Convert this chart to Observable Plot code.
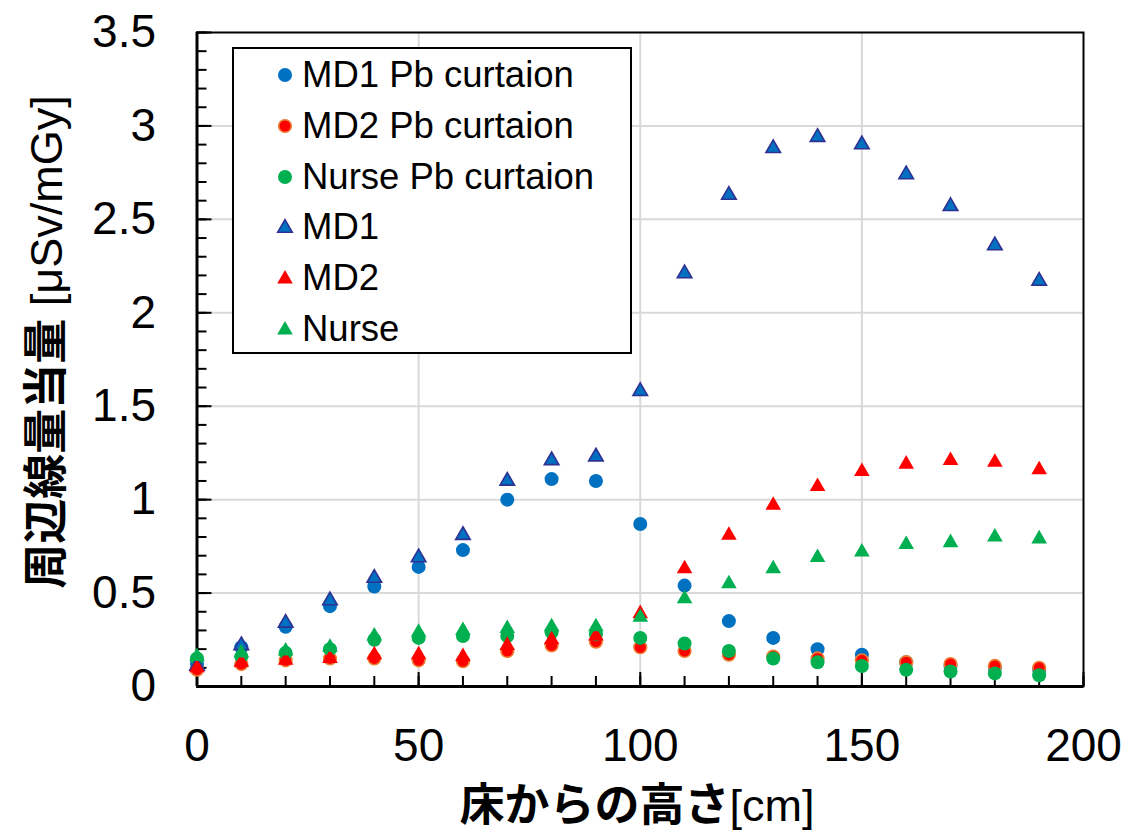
<!DOCTYPE html>
<html><head><meta charset="utf-8">
<script src="https://cdn.jsdelivr.net/npm/d3@7"></script>
<script src="https://cdn.jsdelivr.net/npm/@observablehq/plot@0.6"></script>
<style>
body{margin:0;background:#fff;}
#wrap{position:relative;width:1129px;height:832px;font-family:"Liberation Sans",Arial,sans-serif;color:#000;overflow:hidden;}
#legend{position:absolute;left:232px;top:47px;width:396px;height:303px;border:2px solid #000;background:#fff;}
.lg{position:absolute;left:0;height:50px;display:flex;align-items:center;font-size:36.5px;white-space:nowrap;}
.lg svg{margin-left:42px;margin-right:8px;}
.xt{position:absolute;left:637px;top:803px;transform:translate(-50%,-50%);font-size:45px;line-height:1;white-space:nowrap;}
.yt{position:absolute;left:44px;top:342px;transform:translate(-50%,-50%) rotate(-90deg);font-size:45px;line-height:1;white-space:nowrap;}
.jp{font-family:"Noto Sans CJK JP",sans-serif;font-weight:700;}
</style></head><body><div id="wrap"></div>
<script>
const heights = [0,10,20,30,40,50,60,70,80,90,100,110,120,130,140,150,160,170,180,190];
const md1Pb   = [0.12,0.21,0.32,0.43,0.535,0.64,0.73,1.00,1.11,1.10,0.87,0.54,0.35,0.26,0.20,0.17,0.13,0.11,0.10,0.09];
const md2Pb   = [0.09,0.12,0.14,0.15,0.15,0.14,0.135,0.19,0.22,0.24,0.21,0.19,0.17,0.16,0.15,0.14,0.13,0.12,0.11,0.10];
const nursePb = [0.15,0.16,0.18,0.20,0.25,0.26,0.27,0.27,0.29,0.28,0.26,0.23,0.19,0.15,0.13,0.11,0.09,0.08,0.07,0.06];
const md1     = [0.11,0.22,0.34,0.46,0.58,0.69,0.81,1.10,1.21,1.23,1.58,2.21,2.63,2.88,2.94,2.90,2.74,2.57,2.36,2.17];
const md2     = [0.10,0.13,0.14,0.15,0.17,0.17,0.16,0.22,0.25,0.27,0.39,0.63,0.81,0.97,1.07,1.15,1.19,1.21,1.20,1.16];
const nurse   = [0.16,0.18,0.19,0.21,0.27,0.29,0.30,0.31,0.32,0.32,0.37,0.47,0.55,0.63,0.69,0.72,0.76,0.77,0.80,0.79];
const seriesNames = ["MD1 Pb curtaion","MD2 Pb curtaion","Nurse Pb curtaion","MD1","MD2","Nurse"];
const yMajor = [0,0.5,1,1.5,2,2.5,3,3.5];
const yMinor = d3.range(0,36).map(i=>i/10);
const xMajor = [0,50,100,150,200];
const xMinor = d3.range(0,21).map(i=>i*10);
const xTitleJp = "床からの高さ", xTitleUnit = "[cm]";
const yTitleJp = "周辺線量当量", yTitleUnit = " [μSv/mGy]";

const styles = [
  {symbol:"circle", r:7, fill:"#0070C0", stroke:"none", sw:0},
  {symbol:"circle", r:6.3, fill:"#FF0000", stroke:"#ED7D31", sw:1.6},
  {symbol:"circle", r:7, fill:"#00B050", stroke:"none", sw:0},
  {symbol:"triangle", r:5.4, fill:"#0070C0", stroke:"#2E3192", sw:1.6},
  {symbol:"triangle", r:5.8, fill:"#FF0000", stroke:"none", sw:0},
  {symbol:"triangle", r:5.8, fill:"#00B050", stroke:"none", sw:0}
];
const allValues = [md1Pb, md2Pb, nursePb, md1, md2, nurse];
const data = allValues.map((vals, si) => heights.map((h,i)=>({series: seriesNames[si], h, v: vals[i]})));

const chart = Plot.plot({
  width: 1129, height: 832,
  marginLeft: 196.5, marginRight: 46, marginTop: 32, marginBottom: 146,
  style: {fontFamily: '"Liberation Sans", Arial, sans-serif', fontSize: "46px", color: "#000", background: "#fff"},
  x: {domain: [0,200], label: null},
  y: {domain: [0,3.5], label: null},
  marks: [
    Plot.gridY([0.5,1,1.5,2,2.5,3], {stroke: "#d9d9d9", strokeOpacity: 1, strokeWidth: 2}),
    Plot.gridX([50,100,150], {stroke: "#d9d9d9", strokeOpacity: 1, strokeWidth: 2}),
    Plot.frame({stroke: "#000", strokeWidth: 2}),
    Plot.axisY(yMinor, {tickSize: -10, fill: "none", strokeWidth: 2, label: null}),
    Plot.axisY(yMajor, {tickSize: -15, fill: "none", strokeWidth: 2, label: null}),
    Plot.axisX(xMinor, {tickSize: -10, fill: "none", strokeWidth: 2, label: null}),
    Plot.axisX(xMajor, {tickSize: -14, fill: "none", strokeWidth: 2, label: null}),
    Plot.axisY(yMajor, {tickSize: 0, tickPadding: 41, fontSize: 46, tickFormat: d => String(d), label: null}),
    Plot.axisX(xMajor, {tickSize: 0, tickPadding: 42, fontSize: 46, tickFormat: d => String(d), label: null}),
    Plot.ruleX([0], {stroke: "#000", strokeWidth: 3}),
    Plot.ruleY([0], {stroke: "#000", strokeWidth: 3}),
    ...data.map((d, si) => Plot.dot(d, {x: "h", y: "v", symbol: styles[si].symbol, r: styles[si].r,
      fill: styles[si].fill, stroke: styles[si].stroke, strokeWidth: styles[si].sw}))
  ]
});
const wrap = document.getElementById("wrap");
wrap.appendChild(chart);

// legend
const lg = document.createElement("div");
lg.id = "legend";
seriesNames.forEach((name, i) => {
  const s = styles[i];
  const row = document.createElement("div");
  row.className = "lg";
  row.style.top = (1 + i*50.8) + "px";
  const size = 18;
  let shape;
  if (s.symbol === "circle") {
    shape = `<circle cx="9" cy="9" r="${s.r}" fill="${s.fill}" stroke="${s.stroke}" stroke-width="${s.sw}"/>`;
  } else {
    shape = `<path d="${d3.symbol(d3.symbolTriangle, Math.PI*s.r*s.r)()}" transform="translate(9,10)" fill="${s.fill}" stroke="${s.stroke}" stroke-width="${s.sw}"/>`;
  }
  row.innerHTML = `<svg width="${size}" height="${size}">${shape}</svg><span>${name}</span>`;
  lg.appendChild(row);
});
wrap.appendChild(lg);

const xt = document.createElement("div");
xt.className = "xt";
xt.innerHTML = `<span class="jp">${xTitleJp}</span><span>${xTitleUnit}</span>`;
wrap.appendChild(xt);

const yt = document.createElement("div");
yt.className = "yt";
yt.innerHTML = `<span class="jp">${yTitleJp}</span><span>${yTitleUnit}</span>`;
wrap.appendChild(yt);
</script></body></html>
